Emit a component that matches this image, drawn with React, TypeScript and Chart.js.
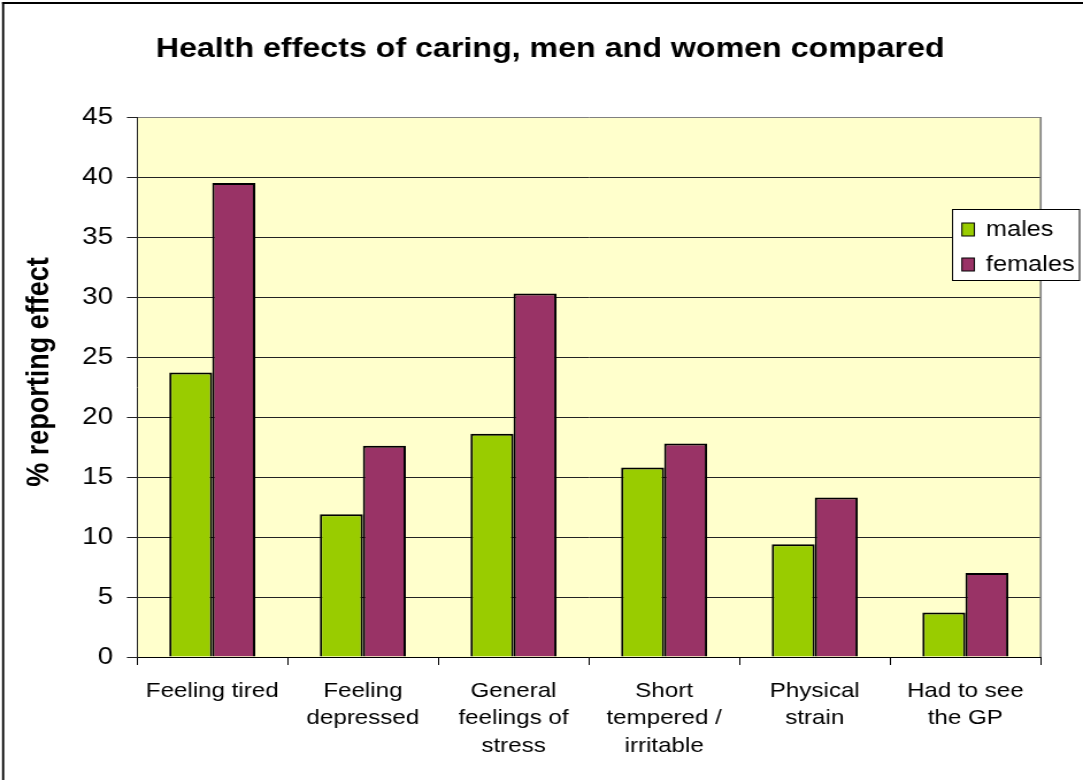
import React, { useEffect, useRef } from 'react';
import { Chart, registerables } from 'chart.js';

Chart.register(...registerables);

// ---- data ----
const categories: (string | string[])[] = [
  'Feeling tired',
  ['Feeling', 'depressed'],
  ['General', 'feelings of', 'stress'],
  ['Short', 'tempered /', 'irritable'],
  ['Physical', 'strain'],
  ['Had to see', 'the GP'],
];
const seriesNames = ['males', 'females'];
const males = [23.7, 11.9, 18.6, 15.8, 9.4, 3.7];
const females = [39.5, 17.6, 30.3, 17.8, 13.3, 7.0];
const yMin = 0;
const yMax = 45;
const yStep = 5;
const titleText = 'Health effects of caring, men and women compared';
const yTitleText = '    % reporting effect';

// ---- styling ----
const W = 942; // canvas units; stretched horizontally to 1083 screen px
const H = 780;
const FONT = '"Liberation Sans", Arial, Helvetica, sans-serif';
const colors = ['#99CC00', '#993366'];

const backgroundPlugin = {
  id: 'bgFrame',
  beforeDraw(chart: any) {
    const { ctx, chartArea: a } = chart;
    ctx.save();
    ctx.fillStyle = '#ffffff';
    ctx.fillRect(0, 0, chart.width, chart.height);
    ctx.fillStyle = '#FFFFCC';
    ctx.fillRect(a.left, a.top, a.right - a.left, a.bottom - a.top);
    ctx.fillStyle = '#000000';
    ctx.fillRect(1.8, 2, 1.8, H - 2);
    ctx.fillRect(1.8, 2, W, 2);
    ctx.restore();
  },
  afterDraw(chart: any) {
    const { ctx, chartArea: a } = chart;
    ctx.save();
    ctx.strokeStyle = '#808080';
    ctx.lineWidth = 1.7;
    ctx.beginPath();
    ctx.moveTo(a.right, a.top);
    ctx.lineTo(a.right, a.bottom);
    ctx.stroke();
    ctx.restore();
  },
};

const boxLegendPlugin = {
  id: 'boxLegend',
  afterDraw(chart: any) {
    const { ctx } = chart;
    const x = 828.5;
    const y = 209.5;
    const w = 110.5;
    const h = 71;
    ctx.save();
    ctx.fillStyle = '#ffffff';
    ctx.fillRect(x, y, w, h);
    ctx.strokeStyle = '#000000';
    ctx.lineWidth = 1;
    ctx.strokeRect(x, y, w, h);
    ctx.font = `22px ${FONT}`;
    ctx.textBaseline = 'middle';
    ctx.textAlign = 'left';
    chart.data.datasets.forEach((ds: any, i: number) => {
      const cy = 229.5 + i * 35;
      ctx.fillStyle = ds.backgroundColor;
      ctx.fillRect(836.7, cy - 6.5, 10.8, 13);
      ctx.strokeStyle = '#000000';
      ctx.lineWidth = 1;
      ctx.strokeRect(836.7, cy - 6.5, 10.8, 13);
      ctx.fillStyle = '#000000';
      ctx.fillText(ds.label, 857.6, cy);
    });
    ctx.restore();
  },
};

export default function App() {
  const ref = useRef<HTMLCanvasElement | null>(null);

  useEffect(() => {
    if (!ref.current) return;
    const chart = new Chart(ref.current, {
      type: 'bar',
      data: {
        labels: categories,
        datasets: [
          {
            label: seriesNames[0],
            data: males,
            backgroundColor: colors[0],
            borderColor: '#000000',
            borderWidth: 2,
          },
          {
            label: seriesNames[1],
            data: females,
            backgroundColor: colors[1],
            borderColor: '#000000',
            borderWidth: 2,
          },
        ],
      },
      plugins: [backgroundPlugin, boxLegendPlugin],
      options: {
        responsive: false,
        animation: false,
        devicePixelRatio: 1,
        layout: { padding: { left: 51.8, right: 36.8, top: 0, bottom: 0 } },
        datasets: {
          bar: { categoryPercentage: 0.571, barPercentage: 1.0 },
        },
        plugins: {
          legend: { display: false },
          tooltip: { enabled: false },
          title: {
            display: true,
            text: titleText,
            color: '#000000',
            font: { family: FONT, size: 28, weight: 'bold', lineHeight: 1.2 },
            padding: { top: 32, bottom: 51.4 },
          },
        },
        scales: {
          x: {
            offset: true,
            grid: {
              display: true,
              drawOnChartArea: false,
              drawTicks: true,
              tickLength: 8,
              tickColor: '#000000',
              offset: true,
            },
            border: { display: true, color: '#000000', width: 1 },
            ticks: {
              color: '#000000',
              font: { family: FONT, size: 21, lineHeight: 1.3 },
              padding: 12.5,
              maxRotation: 0,
              autoSkip: false,
            },
            afterFit(scale: any) {
              scale.height = 123;
            },
          },
          y: {
            min: yMin,
            max: yMax,
            ticks: {
              stepSize: yStep,
              color: '#000000',
              font: { family: FONT, size: 24 },
              padding: 12.1,
            },
            grid: {
              color: (c: any) => (c.tick && c.tick.value === yMax ? '#808080' : '#222222'),
              lineWidth: 1,
              tickLength: 8.7,
              tickColor: '#222222',
            },
            border: { display: true, color: '#222222', width: 1 },
            title: {
              display: true,
              text: yTitleText,
              color: '#000000',
              font: { family: FONT, size: 27, weight: 'bold', lineHeight: 1.2 },
              padding: { top: -33.2, bottom: 0 },
            },
            afterFit(scale: any) {
              scale.width = 67.3;
            },
          },
        },
      },
    });
    return () => chart.destroy();
  }, []);

  return (
    <div style={{ position: 'absolute', left: 0, top: 0, width: 1083, height: 780, background: '#fff' }}>
      <canvas
        ref={ref}
        width={W}
        height={H}
        style={{ width: '1083px', height: '780px', display: 'block' }}
      />
    </div>
  );
}
